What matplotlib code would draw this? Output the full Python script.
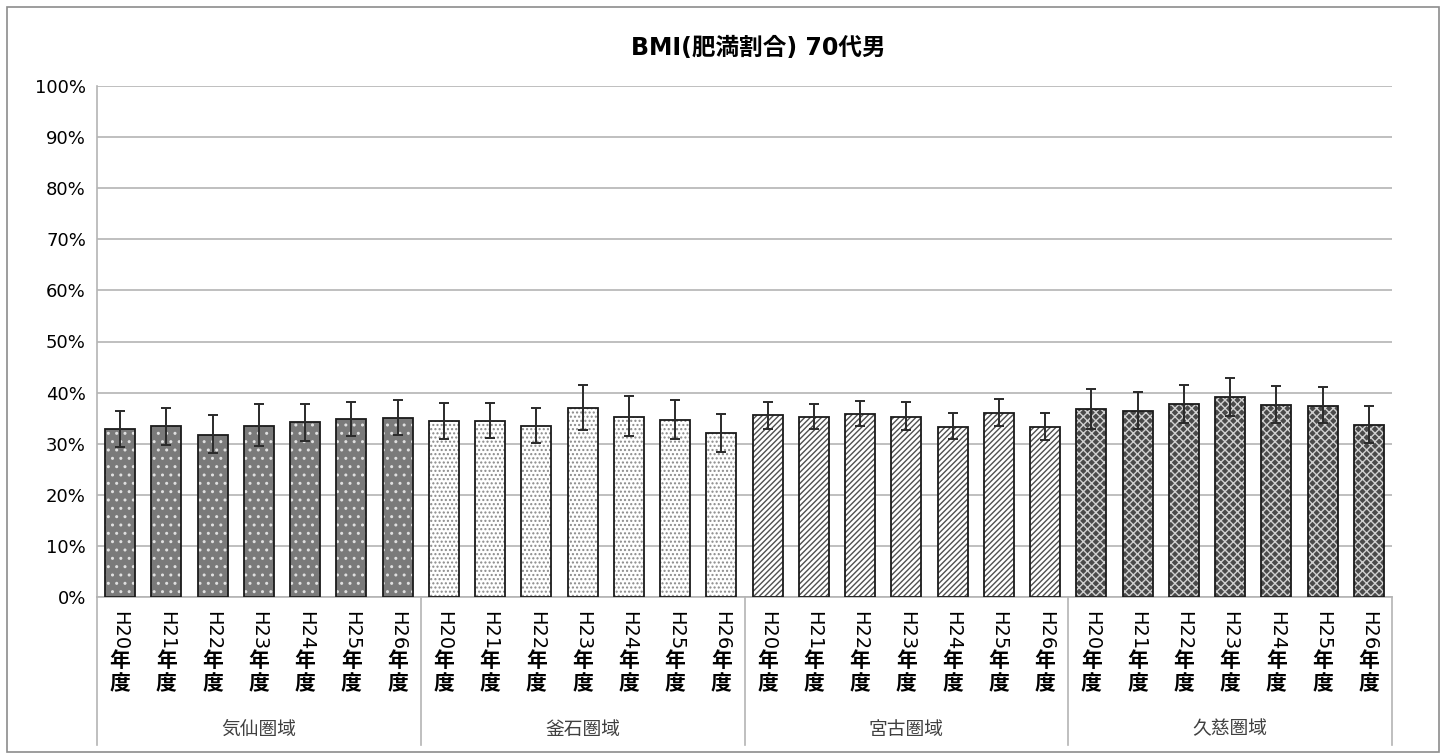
import numpy as np
import matplotlib
matplotlib.use("Agg")
import matplotlib.pyplot as plt
import matplotlib.transforms as mtransforms
from matplotlib.patches import Rectangle

plt.rcParams['font.family'] = ['Noto Sans CJK JP', 'DejaVu Sans']

title = "BMI(肥満割合) 70代男"
regions = ["気仙圏域", "釜石圏域", "宮古圏域", "久慈圏域"]
years = ["H20", "H21", "H22", "H23", "H24", "H25", "H26"]

# bar values (%) per region
kesen = [32.9, 33.5, 31.8, 33.5, 34.2, 34.8, 35.1]
kamaishi = [34.4, 34.4, 33.5, 36.9, 35.3, 34.6, 32.0]
miyako = [35.6, 35.3, 35.8, 35.3, 33.3, 36.1, 33.3]
kuji = [36.7, 36.4, 37.8, 39.1, 37.6, 37.3, 33.7]

# upper / lower ends of error bars (%)
kesen_hi = [36.4, 37.0, 35.6, 37.8, 37.8, 38.2, 38.6]
kesen_lo = [29.3, 29.7, 28.2, 29.5, 30.6, 31.5, 31.8]
kamaishi_hi = [37.9, 37.9, 37.0, 41.5, 39.3, 38.6, 35.8]
kamaishi_lo = [30.9, 31.1, 30.2, 32.6, 31.5, 30.9, 28.4]
miyako_hi = [38.2, 37.8, 38.4, 38.2, 36.0, 38.8, 36.0]
miyako_lo = [32.9, 32.8, 33.4, 32.6, 30.9, 33.5, 30.7]
kuji_hi = [40.8, 40.1, 41.5, 42.8, 41.3, 41.0, 37.3]
kuji_lo = [32.8, 32.9, 34.0, 35.4, 34.0, 34.0, 30.2]

values = [kesen, kamaishi, miyako, kuji]
highs = [kesen_hi, kamaishi_hi, miyako_hi, kuji_hi]
lows = [kesen_lo, kamaishi_lo, miyako_lo, kuji_lo]

# face, hatch, hatch colour per region
styles = [("#7a7a7a", "..", "#e0e0e0"),
          ("#ffffff", "....", "#8a8a8a"),
          ("#ffffff", "//////", "#505050"),
          ("#4a4a4a", "xxxx", "#d0d0d0")]

W, H = 1445, 755
fig = plt.figure(figsize=(W / 100, H / 100), dpi=100)
fig.patches.append(Rectangle((7 / W, 3 / H), 1 - 13 / W, 1 - 10 / H,
                             transform=fig.transFigure, fill=False,
                             edgecolor="#8c8c8c", linewidth=1.2))

ax = fig.add_axes([97 / W, 1 - 597 / H, (1392 - 97) / W, (597 - 86) / H])

n = len(years)
width = 0.65
for g in range(len(regions)):
    x = np.arange(n) + g * n
    v = np.array(values[g])
    face, hatch, hcol = styles[g]
    ax.bar(x, v, width, color=face, edgecolor=hcol, hatch=hatch,
           linewidth=0, zorder=2)
    ax.bar(x, v, width, fill=False, edgecolor="#1a1a1a", linewidth=1.3,
           zorder=3)
    yerr = [v - np.array(lows[g]), np.array(highs[g]) - v]
    ax.errorbar(x, v, yerr=yerr, fmt="none", ecolor="#2a2a2a",
                elinewidth=1.4, capsize=3.5, capthick=1.4, zorder=4)

total = n * len(regions)
ax.set_xlim(-0.5, total - 0.5)
ax.set_ylim(0, 100)
ax.set_yticks(range(0, 101, 10))
ax.set_yticklabels([f"{t}%" for t in range(0, 101, 10)], fontsize=13,
                   family="DejaVu Sans")
ax.yaxis.grid(True, color="#b4b4b4", linewidth=1.2, zorder=0)
ax.set_axisbelow(True)
ax.tick_params(axis="y", length=0, pad=8)
ax.set_xticks([])
for s in ["top", "right"]:
    ax.spines[s].set_visible(False)
ax.spines["left"].set_color("#b4b4b4")
ax.spines["bottom"].set_color("#b4b4b4")
ax.spines["left"].set_linewidth(1.2)
ax.spines["bottom"].set_linewidth(1.2)

fig.text(758 / W, 1 - 48 / H, title, ha="center", va="center",
         fontsize=17, fontweight="bold",
         family=["DejaVu Sans", "Noto Sans CJK JP"])

# category axis (vertical writing labels + region groups)
trans = mtransforms.blended_transform_factory(ax.transData, fig.transFigure)
for g in range(len(regions)):
    for i, yr in enumerate(years):
        xi = g * n + i
        ax.text(xi, 1 - 611 / H, yr, rotation=-90, ha="center", va="top",
                fontsize=14, family="DejaVu Sans", transform=trans,
                clip_on=False)
        ax.text(xi, 1 - 650 / H, "年", ha="center", va="top",
                fontsize=15, fontweight="bold", transform=trans, clip_on=False)
        ax.text(xi, 1 - 673 / H, "度", ha="center", va="top",
                fontsize=15, fontweight="bold", transform=trans, clip_on=False)
    ax.text(g * n + (n - 1) / 2, 1 - 729 / H, regions[g], ha="center",
            va="center", fontsize=13.5, color="#404040", transform=trans,
            clip_on=False)
for b in range(len(regions) + 1):
    xb = b * n - 0.5
    ax.plot([xb, xb], [1 - 597 / H, 1 - 745 / H], color="#b4b4b4",
            linewidth=1.2, transform=trans, clip_on=False)

fig.savefig("out.png", dpi=100)
